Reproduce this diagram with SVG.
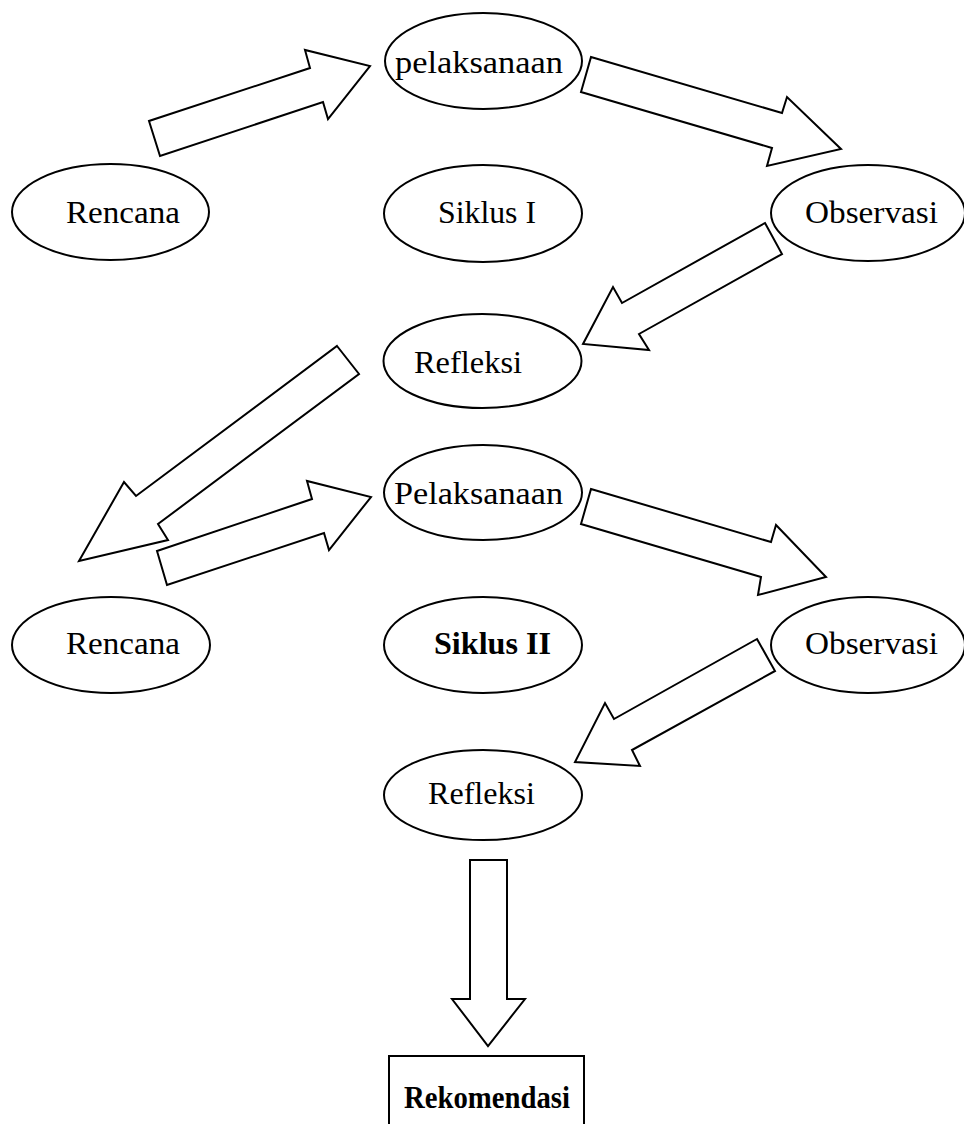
<svg xmlns="http://www.w3.org/2000/svg" width="964" height="1124" viewBox="0 0 964 1124">
<style>
.bg{fill:#fff}
.n{fill:#fff;stroke:#000;stroke-width:2}
.a{fill:#fff;stroke:#000;stroke-width:2;stroke-linejoin:miter}
.t{font-family:"Liberation Serif","Times New Roman",serif;font-size:32px;fill:#000}
.b{font-weight:bold}
</style>
<rect class="bg" x="0" y="0" width="964" height="1124"/>
<g id="connectors">
<polygon class="a" points="160,156 149,121 310,68 305,50 370,66 328,119 323,102"/>
<polygon class="a" points="591,57 782,113 787,97 841,149 767,166 772,148 581,92"/>
<polygon class="a" points="765,223 782,254 639,334 649,350 583,344 613,287 622,303"/>
<polygon class="a" points="337,346 359,374 158,524 168,540 79,561 124,482 136,496"/>
<polygon class="a" points="157,551 312,499 307,481 371,497 329,550 324,533 167,585"/>
<polygon class="a" points="591,489 771,542 776,525 826,577 758,595 761,577 581,524"/>
<polygon class="a" points="757,639 775,671 632,750 640,766 575,762 605,703 614,719"/>
<polygon class="a" points="470,860 507,860 507,999 525,999 488,1046 452,999 470,999"/>
</g>
<g id="pelaksanaan1"><ellipse class="n" cx="483.5" cy="61" rx="98.5" ry="48"/><text class="t" x="395" y="73" textLength="168" lengthAdjust="spacingAndGlyphs">pelaksanaan</text></g>
<g id="rencana1"><ellipse class="n" cx="110.5" cy="212" rx="98.5" ry="48"/><text class="t" x="66" y="223" textLength="114" lengthAdjust="spacingAndGlyphs">Rencana</text></g>
<g id="siklus1"><ellipse class="n" cx="483" cy="213.5" rx="99" ry="48.5"/><text class="t" x="438" y="223" textLength="98" lengthAdjust="spacingAndGlyphs">Siklus I</text></g>
<g id="observasi1"><ellipse class="n" cx="868" cy="213" rx="97" ry="48"/><text class="t" x="805" y="223" textLength="133" lengthAdjust="spacingAndGlyphs">Observasi</text></g>
<g id="refleksi1"><ellipse class="n" cx="482.5" cy="361" rx="99" ry="47"/><text class="t" x="414" y="373" textLength="108" lengthAdjust="spacingAndGlyphs">Refleksi</text></g>
<g id="pelaksanaan2"><ellipse class="n" cx="483" cy="492.5" rx="99" ry="47.5"/><text class="t" x="394" y="504" textLength="169" lengthAdjust="spacingAndGlyphs">Pelaksanaan</text></g>
<g id="rencana2"><ellipse class="n" cx="111" cy="645" rx="99" ry="48"/><text class="t" x="66" y="654" textLength="114" lengthAdjust="spacingAndGlyphs">Rencana</text></g>
<g id="siklus2"><ellipse class="n" cx="483" cy="645" rx="99" ry="48"/><text class="t b" x="434" y="654" textLength="117" lengthAdjust="spacingAndGlyphs">Siklus II</text></g>
<g id="observasi2"><ellipse class="n" cx="868" cy="645" rx="97" ry="48"/><text class="t" x="805" y="654" textLength="133" lengthAdjust="spacingAndGlyphs">Observasi</text></g>
<g id="refleksi2"><ellipse class="n" cx="483" cy="795" rx="99" ry="45"/><text class="t" x="428" y="804" textLength="107" lengthAdjust="spacingAndGlyphs">Refleksi</text></g>
<g id="rekomendasi"><path class="n" d="M389,1125 V1056 H584 V1125" fill="none"/><text class="t b" x="404" y="1108" textLength="166" lengthAdjust="spacingAndGlyphs">Rekomendasi</text></g>
</svg>
